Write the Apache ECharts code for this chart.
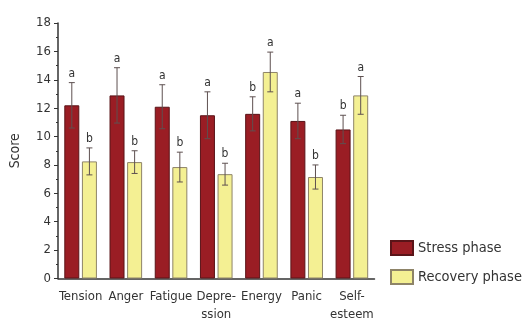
<!DOCTYPE html>
<html><head><meta charset="utf-8">
<script src="https://cdn.jsdelivr.net/npm/echarts@6/dist/echarts.min.js"></script>
<style>html,body{margin:0;padding:0;background:#fff}#c{width:528px;height:332px}</style>
</head><body><div id="c"></div>
<script>
const categories = ['Tension','Anger','Fatigue','Depre-\nssion','Energy','Panic','Self-\nesteem'];
const stressMean = [12.2, 12.9, 12.1, 11.5, 11.6, 11.1, 10.5];
const stressSD   = [1.6, 1.95, 1.55, 1.65, 1.2, 1.25, 1.0];
const stressLetters = ['a','a','a','a','b','a','b'];
const recoveryMean = [8.25, 8.2, 7.85, 7.35, 14.55, 7.15, 12.9];
const recoverySD   = [0.95, 0.8, 1.05, 0.77, 1.4, 0.85, 1.33];
const recoveryLetters = ['b','b','b','b','a','b','a'];
const yTicks = [0,2,4,6,8,10,12,14,16,18];

const FONT = '"Liberation Sans Narrow","DejaVu Sans Condensed",sans-serif';
const BAR_W = 15, GAP = 2.6;
const OFF = GAP/2 + BAR_W/2;

function errData(mean, sd, letters){
  return mean.map((m,i)=>[i, m - sd[i], m + sd[i], letters[i]]);
}
function errRender(offset){
  return function(params, api){
    const x = api.value(0);
    const lo = api.coord([x, api.value(1)]);
    const hi = api.coord([x, api.value(2)]);
    const cx = lo[0] + offset;
    const cap = 3;
    const st = {stroke:'#5e5050', lineWidth:1};
    return {type:'group', children:[
      {type:'line', shape:{x1:cx,y1:lo[1],x2:cx,y2:hi[1]}, style:st},
      {type:'line', shape:{x1:cx-cap,y1:lo[1],x2:cx+cap,y2:lo[1]}, style:st},
      {type:'line', shape:{x1:cx-cap,y1:hi[1],x2:cx+cap,y2:hi[1]}, style:st},
      {type:'text', style:{text:api.value(3), x:cx, y:hi[1]-3, textAlign:'center', textVerticalAlign:'bottom', fill:'#333', font:'12px '+FONT}}
    ]};
  };
}

const chart = echarts.init(document.getElementById('c'), null, {renderer:'canvas'});
chart.setOption({
  animation:false,
  textStyle:{fontFamily:FONT},
  grid:{left:54.5, top:23, width:320, height:255.5, containLabel:false},
  legend:{
    orient:'vertical', left:385, top:235, itemWidth:22, itemHeight:14, itemGap:13,
    icon:'rect',
    textStyle:{fontSize:14.5, color:'#333', fontFamily:FONT},
    data:['Stress phase','Recovery phase']
  },
  xAxis:{
    type:'category', data:categories,
    axisLine:{lineStyle:{color:'#333', width:1.5}},
    axisTick:{show:false},
    axisLabel:{color:'#333', fontSize:13, lineHeight:18, margin:9, interval:0, fontFamily:FONT}
  },
  yAxis:{
    type:'value', min:0, max:18, interval:2,
    name:'Score', nameLocation:'middle', nameGap:36, nameRotate:90,
    nameTextStyle:{color:'#333', fontSize:14, fontFamily:FONT},
    axisLine:{show:true, lineStyle:{color:'#333', width:1.5}},
    axisTick:{show:true, length:4, lineStyle:{color:'#333'}},
    minorTick:{show:true, splitNumber:2, length:2, lineStyle:{color:'#333'}},
    splitLine:{show:false},
    axisLabel:{color:'#333', fontSize:13, margin:7, fontFamily:FONT,
      formatter:v=> yTicks.includes(v) ? String(v) : ''}
  },
  series:[
    {name:'Stress phase', type:'bar', data:stressMean, barWidth:BAR_W, barGap:(GAP/BAR_W*100)+'%',
     itemStyle:{color:'#9a1d24', borderColor:'#5a1418', borderWidth:1}},
    {name:'Recovery phase', type:'bar', data:recoveryMean, barWidth:BAR_W,
     itemStyle:{color:'#f4f093', borderColor:'#8e8468', borderWidth:1}},
    {type:'custom', renderItem:errRender(-OFF), data:errData(stressMean, stressSD, stressLetters),
     encode:{x:0, y:[1,2]}, z:10, silent:true},
    {type:'custom', renderItem:errRender(OFF), data:errData(recoveryMean, recoverySD, recoveryLetters),
     encode:{x:0, y:[1,2]}, z:10, silent:true}
  ]
});
</script></body></html>
